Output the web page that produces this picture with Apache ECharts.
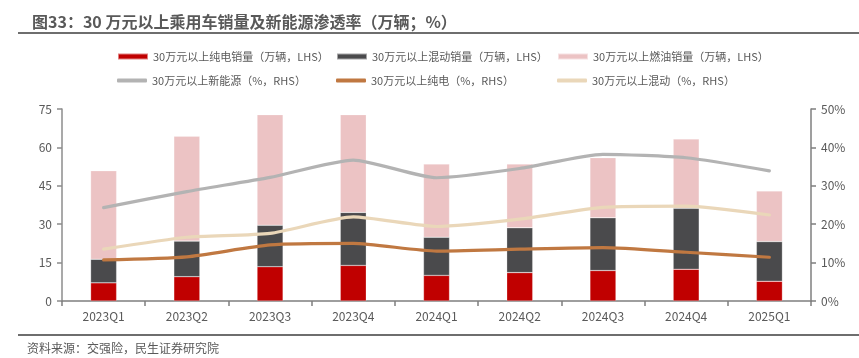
<!DOCTYPE html>
<html>
<head>
<meta charset="utf-8">
<script src="https://cdn.jsdelivr.net/npm/echarts@6/dist/echarts.min.js"></script>
<style>
html,body{margin:0;padding:0;background:#fff;}
#c{width:859px;height:358px;}
</style>
</head>
<body>
<div id="c"></div>
<script>
const categories = ['2023Q1','2023Q2','2023Q3','2023Q4','2024Q1','2024Q2','2024Q3','2024Q4','2025Q1'];
const bevSales = [7.1, 9.5, 13.4, 13.9, 10.0, 11.1, 11.9, 12.4, 7.7];
const phevSales = [9.2, 13.9, 16.2, 20.7, 14.9, 17.5, 20.6, 23.8, 15.5];
const iceSales = [34.6, 41.0, 43.2, 38.2, 28.6, 24.9, 23.5, 27.1, 19.8];
const nevRate = [24.3, 28.5, 32.2, 36.7, 32.1, 34.5, 38.2, 37.3, 33.9];
const bevRate = [10.7, 11.5, 14.6, 15.0, 13.0, 13.5, 13.9, 12.7, 11.4];
const phevRate = [13.5, 16.6, 17.6, 21.9, 19.4, 21.3, 24.4, 24.7, 22.4];
const leftTicks = [0, 15, 30, 45, 60, 75];
const rightTicks = [0, 10, 20, 30, 40, 50];

const names = [
  '30万元以上纯电销量（万辆，LHS）',
  '30万元以上混动销量（万辆，LHS）',
  '30万元以上燃油销量（万辆，LHS）',
  '30万元以上新能源（%，RHS）',
  '30万元以上纯电（%，RHS）',
  '30万元以上混动（%，RHS）'
];
const colors = ['#C00000', '#4A4A4C', '#ECC3C4', '#B3B3B3', '#C07841', '#EAD7B9'];
const legendPos = [[117,51],[336,51],[557,51],[117,75],[336,75],[557,75]];

const chart = echarts.init(document.getElementById('c'), null, {renderer:'canvas'});
const font = '"Noto Sans CJK SC", "Noto Sans", sans-serif';

const legends = names.map((n, i) => ({
  data: [n],
  left: legendPos[i][0],
  top: legendPos[i][1],
  itemWidth: 30,
  itemHeight: i < 3 ? 6 : 4,
  icon: i < 3 ? 'rect' : 'roundRect',
  itemGap: 4,
  padding: 0,
  selectedMode: false,
  textStyle: {fontSize: 11, color: '#595959', fontFamily: font}
}));

const barSeries = [bevSales, phevSales, iceSales].map((d, i) => ({
  name: names[i],
  type: 'bar',
  stack: 'sales',
  data: d,
  barWidth: 26,
  yAxisIndex: 0,
  itemStyle: {color: colors[i], borderColor: 'rgba(255,255,255,0.5)', borderWidth: 0.5},
  z: 2
}));

const lineSeries = [nevRate, bevRate, phevRate].map((d, i) => ({
  name: names[i + 3],
  type: 'line',
  data: d,
  yAxisIndex: 1,
  smooth: 0.2,
  symbol: 'none',
  lineStyle: {color: colors[i + 3], width: 3.2, cap: 'round'},
  itemStyle: {color: colors[i + 3]},
  z: 3
}));

chart.setOption({
  animation: false,
  backgroundColor: '#fff',
  title: {
    text: '图33：30 万元以上乘用车销量及新能源渗透率（万辆；%）',
    left: 27, top: 9,
    textStyle: {fontSize: 16, fontWeight: 'bold', color: '#595959', fontFamily: font}
  },
  legend: legends,
  grid: {left: 62, right: 48, top: 109, bottom: 57},
  xAxis: {
    type: 'category',
    data: categories,
    boundaryGap: true,
    axisLine: {lineStyle: {color: '#7F7F7F', width: 1.5}},
    axisTick: {show: true, length: 5, lineStyle: {color: '#7F7F7F', width: 1.5}},
    axisLabel: {color: '#595959', fontSize: 12, fontFamily: font, margin: 9}
  },
  yAxis: [
    {
      type: 'value', min: leftTicks[0], max: leftTicks[leftTicks.length - 1], interval: 15,
      axisLine: {show: true, lineStyle: {color: '#8C8C8C', width: 1.5}},
      axisTick: {show: true, length: 5, lineStyle: {color: '#8C8C8C', width: 1.5}},
      splitLine: {show: false},
      axisLabel: {color: '#595959', fontSize: 12, fontFamily: font, margin: 10}
    },
    {
      type: 'value', min: rightTicks[0], max: rightTicks[rightTicks.length - 1], interval: 10,
      position: 'right',
      axisLine: {show: true, lineStyle: {color: '#7F7F7F', width: 1.5}},
      axisTick: {show: true, length: 5, lineStyle: {color: '#7F7F7F', width: 1.5}},
      splitLine: {show: false},
      axisLabel: {color: '#595959', fontSize: 12, fontFamily: font, margin: 10, formatter: '{value}%'}
    }
  ],
  graphic: [
    {type: 'line', shape: {x1: 18, y1: 33, x2: 859, y2: 33}, style: {stroke: '#6E6E6E', lineWidth: 2}},
    {type: 'line', shape: {x1: 18, y1: 335, x2: 859, y2: 335}, style: {stroke: '#6E6E6E', lineWidth: 2}},
    {type: 'text', left: 27, top: 342, style: {text: '资料来源：交强险，民生证券研究院', fontSize: 12, fill: '#595959', fontFamily: font}}
  ],
  series: barSeries.concat(lineSeries)
});
</script>
</body>
</html>
